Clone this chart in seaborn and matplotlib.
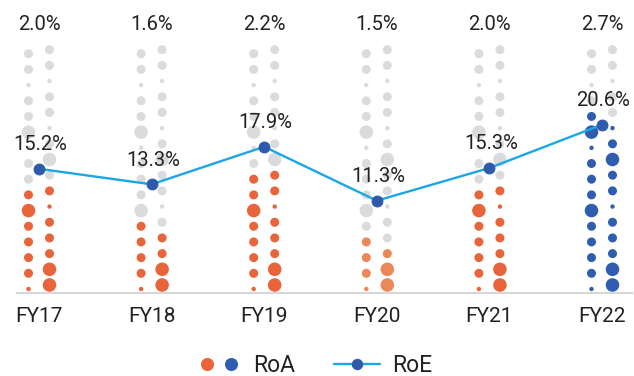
import matplotlib
matplotlib.use("Agg")
import matplotlib.pyplot as plt
from matplotlib.lines import Line2D
from matplotlib.legend_handler import HandlerTuple
import numpy as np
import pandas as pd
import seaborn as sns

# ---- data -------------------------------------------------------------
years = ["FY17", "FY18", "FY19", "FY20", "FY21", "FY22"]
roa = [2.0, 1.6, 2.2, 1.5, 2.0, 2.7]          # % return on assets
roe = [15.2, 13.3, 17.9, 11.3, 15.3, 20.6]    # % return on equity

# number of highlighted dots in each of the two dot columns per year
filled_left = [7, 5, 8, 4, 7, 12]
filled_right = [7, 4, 8, 3, 7, 11]
fill_colors = ["#E8643A", "#E8643A", "#E8643A", "#EC8857", "#E8643A", "#2F5EB0"]

# dot size pattern of each column, listed bottom to top (S / M / L)
left_pattern = ["S", "M", "M", "M", "M", "L", "M", "M", "M", "S", "L", "M", "M", "S", "M", "M"]
right_pattern = ["L", "L", "M", "M", "M", "S", "M", "M", "L", "M", "S", "M", "M", "S", "M", "M"]

# ---- style ------------------------------------------------------------
sns.set_theme(style="white")
plt.rcParams["font.family"] = ["Roboto", "DejaVu Sans"]

GREY = "#DADBDD"
LINE = "#1BA6E6"
MARK = "#2E5AAC"
TEXT = "#222222"

W, H = 634, 376
fig = plt.figure(figsize=(W / 100, H / 100), dpi=100)
ax = fig.add_axes([17 / W, (H - 293) / H, (632 - 17) / W, (293 - 5) / H])

px_per_unit_y = 8.17
ax.set_ylim(0, 288 / px_per_unit_y)
px_per_unit_x = 112.6
ax.set_xlim(-22 / px_per_unit_x, 5 + 30 / px_per_unit_x)

# ---- decorative dot columns ------------------------------------------
step = 1.92
col_off = 10.5 / px_per_unit_x
rows = []
for i, yr in enumerate(years):
    for side, pattern, nfill, base in (
        (-1, left_pattern, filled_left[i], 0.49),
        (1, right_pattern, filled_right[i], 0.98),
    ):
        for k, kind in enumerate(pattern):
            rows.append({
                "x": i + side * col_off,
                "y": base + k * step,
                "kind": kind,
                "tone": fill_colors[i] if k < nfill else GREY,
            })
dots = pd.DataFrame(rows)
palette = {c: c for c in dots["tone"].unique()}
sns.scatterplot(data=dots, x="x", y="y", size="kind",
                sizes={"S": 10, "M": 42, "L": 95},
                hue="tone", palette=palette, linewidth=0,
                legend=False, ax=ax, zorder=2)

# ---- RoE line ----------------------------------------------------------
line_df = pd.DataFrame({"x": np.arange(len(years)), "roe": roe})
sns.lineplot(data=line_df, x="x", y="roe", color=LINE, linewidth=1.7,
             marker="o", markersize=7.8, markerfacecolor=MARK,
             markeredgecolor=MARK, ax=ax, zorder=3)

for i, v in enumerate(roe):
    ax.annotate(f"{v:.1f}%", (i, v), xytext=(1, 17.5), textcoords="offset points",
                ha="center", va="center", fontsize=14.5, color=TEXT, zorder=4)

for i, v in enumerate(roa):
    ax.text(i, (293 - 25) / px_per_unit_y, f"{v:.1f}%", ha="center", va="center",
            fontsize=14.5, color=TEXT, zorder=4)

# ---- axes --------------------------------------------------------------
ax.set_xticks(range(len(years)))
ax.set_xticklabels(years, fontsize=15, color=TEXT)
ax.set_yticks([])
ax.set_xlabel("")
ax.set_ylabel("")
ax.tick_params(axis="x", length=0, pad=10)
for s in ("top", "left", "right"):
    ax.spines[s].set_visible(False)
ax.spines["bottom"].set_color("#D6D6D6")
ax.spines["bottom"].set_linewidth(1.4)

# ---- legend ------------------------------------------------------------
h_or = Line2D([], [], linestyle="none", marker="o", markersize=9.4,
              markerfacecolor="#E8643A", markeredgewidth=0)
h_bl = Line2D([], [], linestyle="none", marker="o", markersize=9.4,
              markerfacecolor="#2F5EB0", markeredgewidth=0)
h_roe = Line2D([], [], color=LINE, linewidth=1.7, marker="o", markersize=7.2,
               markerfacecolor=MARK, markeredgecolor=MARK)
fig.legend(handles=[(h_or, h_bl), h_roe], labels=["RoA", "RoE"],
           handler_map={tuple: HandlerTuple(ndivide=None, pad=0.05)},
           loc="center", bbox_to_anchor=(314 / W, 1 - 366 / H), ncol=2,
           frameon=False, fontsize=16.5, handlelength=2.0,
           handletextpad=0.5, columnspacing=1.7, labelcolor=TEXT)

fig.savefig("out.png", dpi=100)
